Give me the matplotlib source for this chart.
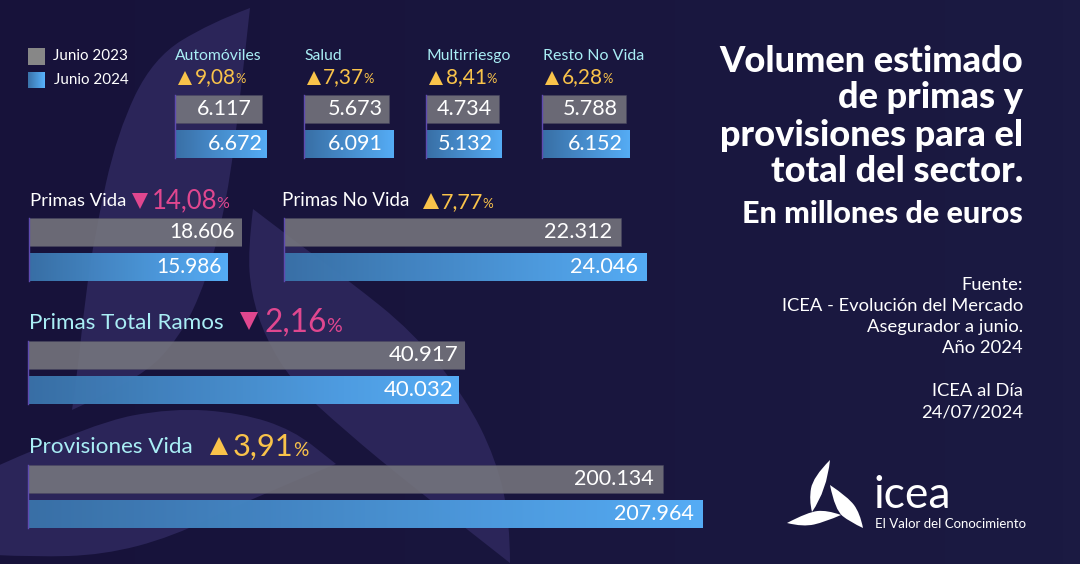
import matplotlib
matplotlib.use('Agg')
import matplotlib.pyplot as plt
import numpy as np
from matplotlib.colors import LinearSegmentedColormap
from matplotlib.patches import PathPatch, Rectangle
from matplotlib.path import Path

plt.rcParams['font.family'] = ['Lato', 'DejaVu Sans']

# datos (millones de euros)
grupos = ['Automóviles', 'Salud', 'Multirriesgo', 'Resto No Vida', 'Primas Vida',
          'Primas No Vida', 'Primas Total Ramos', 'Provisiones Vida']
junio_2023 = [6117, 5673, 4734, 5788, 18606, 22312, 40917, 200134]
junio_2024 = [6672, 6091, 5132, 6152, 15986, 24046, 40032, 207964]
variacion = ['9,08', '7,37', '8,41', '6,28', '14,08', '7,77', '2,16', '3,91']
sube = [True, True, True, True, False, True, False, True]
# el eje de cada grupo no empieza en cero en el original
base_eje = [-3540, -3209, -4951, -1856, -18600, -163, -23300, 75600]

W, H = 1080, 564
FONDO = '#17123a'
HOJA = '#2b2559'
CIAN = '#a9eef5'
AMARILLO = '#f9c34a'
ROSA = '#e0478f'
degradado = LinearSegmentedColormap.from_list('azul', ['#3a72a9', '#58b2fc'])

# caja de cada grupo en pixeles: izquierda, derecha, arriba, abajo
cajas = [(175, 267, 95, 158), (304, 393, 95, 158), (426, 502, 95, 158), (542, 630, 95, 158),
         (29, 242, 218, 281), (284, 647, 218, 281), (28, 465, 341, 404), (28, 703, 465, 528)]
# titulo, triangulo y porcentaje: x titulo, y titulo, x triangulo, y triangulo, x numero, y base numero
rotulos = [(175, 56, 185, 78, 195, 83), (304, 56, 314, 78, 323, 83), (427, 56, 436, 78, 446, 83),
           (543, 56, 552, 78, 562, 83), (30, 201, 140, 201, 152, 208), (282, 201, 431, 201, 441, 208),
           (29, 323, 249, 321, 265, 332), (29, 447, 219, 446, 233, 456)]
tam_rotulo = [11.3, 11.3, 11.3, 11.5, 13.3, 13.5, 16.1, 16.2]
tam_pct = [15, 15, 15, 15, 18.5, 15.5, 22.8, 22.2]
tam_triangulo = [10, 10, 10, 10, 11, 11.5, 13.5, 13.5]
tam_valor = [15.5, 15.5, 15.5, 15.5, 15, 15.6, 16, 15.5]
color_rotulo = [CIAN, CIAN, CIAN, CIAN, 'white', 'white', CIAN, CIAN]
pad_2023 = [10, 6, 7, 8, 7, 9, 6, 9]
pad_2024 = [4, 10, 9, 7, 5, 9, 6, 9]


def curva(puntos):
    # curva suave que pasa cerca de los puntos, con puntas en los extremos
    v = [puntos[0]]
    c = [Path.MOVETO]
    for i in range(1, len(puntos) - 1):
        fin = puntos[i + 1] if i == len(puntos) - 2 else tuple((np.array(puntos[i]) + np.array(puntos[i + 1])) / 2)
        v += [puntos[i], fin]
        c += [Path.CURVE3, Path.CURVE3]
    return v, c


def hoja(ax, lado1, lado2, color, **kw):
    v1, c1 = curva(lado1)
    v2, c2 = curva(lado2)
    path = Path(v1 + v2[1:], c1 + c2[1:])
    ax.add_patch(PathPatch(path, fc=color, ec='none', **kw))


fig = plt.figure(figsize=(W / 100, H / 100), dpi=100)
ax = fig.add_axes([0, 0, 1, 1], zorder=0)
ax.imshow(np.linspace(0, 1, 64).reshape(1, -1), aspect='auto', extent=(0, W, H, 0),
          cmap=LinearSegmentedColormap.from_list('fondo', [FONDO, '#1b1a42']))
ax.set_xlim(0, W)
ax.set_ylim(H, 0)
ax.axis('off')

# hojas del fondo
hoja(ax, [(250, 8), (210, 23), (153, 58), (117, 133), (95, 233), (85, 300), (77, 376), (72, 410)],
     [(72, 410), (138, 380), (179, 339), (207, 280), (227, 200), (240, 100), (250, 8)], HOJA)
hoja(ax, [(253, 209), (300, 245), (348, 280), (413, 332), (465, 397), (496, 459), (510, 521), (510, 563)],
     [(510, 563), (413, 487), (344, 430), (293, 383), (265, 337), (251, 293), (248, 250), (253, 209)], HOJA)
hoja(ax, [(-5, 467), (93, 423), (172, 408), (241, 413), (293, 430), (331, 460), (336, 464)],
     [(336, 464), (248, 500), (172, 537), (103, 555), (34, 557), (-5, 555)], HOJA)

# logo
hoja(ax, [(830, 460), (813, 477), (809, 500), (812, 512)], [(812, 512), (827, 490), (830, 460)], 'white')
hoja(ax, [(863, 528), (860, 513), (848, 497), (830, 485)], [(830, 485), (835, 510), (850, 522), (863, 528)], 'white')
hoja(ax, [(787, 523), (808, 512), (827, 510), (841, 515)], [(841, 515), (825, 522), (803, 527), (787, 523)], 'white')

# capa de textos, en pixeles
top = fig.add_axes([0, 0, 1, 1], zorder=5)
top.set_xlim(0, W)
top.set_ylim(H, 0)
top.axis('off')
top.patch.set_alpha(0)
render = fig.canvas.get_renderer()

# barras
for i, grupo in enumerate(grupos):
    izq, der, arriba, abajo = cajas[i]
    g = fig.add_axes([izq / W, 1 - abajo / H, (der - izq) / W, (abajo - arriba) / H], zorder=2)
    g.patch.set_alpha(0)
    for s in ['top', 'right', 'bottom']:
        g.spines[s].set_visible(False)
    g.spines['left'].set_color('#5f4bb0')
    g.spines['left'].set_linewidth(1)
    g.set_xticks([])
    g.set_yticks([])

    a, b = junio_2023[i], junio_2024[i]
    g.barh(0, a - base_eje[i], left=base_eje[i], height=0.8, color='#78787f', alpha=0.86,
           edgecolor='#4a4860', linewidth=0.4)
    g.imshow(np.linspace(0, 1, 256).reshape(1, -1), aspect='auto', cmap=degradado, alpha=0.97,
             extent=(base_eje[i], b, 1.4, 0.6), zorder=2)
    g.set_xlim(base_eje[i], max(a, b))
    g.set_ylim(1.4, -0.4)

    for fila, (valor, pad) in enumerate([(a, pad_2023[i]), (b, pad_2024[i])]):
        g.annotate(f'{valor:,}'.replace(',', '.'), (valor, fila), xytext=(-pad, 0),
                   textcoords='offset pixels', ha='right', va='center', color='white',
                   fontsize=tam_valor[i], zorder=4)

    # titulo del grupo y variacion
    xt, yt, xm, ym, xn, yn = rotulos[i]
    top.text(xt, yt, grupo, color=color_rotulo[i], fontsize=tam_rotulo[i], va='center')
    color = AMARILLO if sube[i] else ROSA
    top.plot([xm], [ym], marker='^' if sube[i] else 'v', color=color, ms=tam_triangulo[i], mew=0)
    t = top.text(xn, yn, variacion[i], color=color, fontsize=tam_pct[i], va='baseline')
    x1 = t.get_window_extent(render).x1
    top.text(x1 - 1, yn, '%', color=color, fontsize=tam_pct[i] * 0.62, va='baseline')

# leyenda
top.add_patch(Rectangle((28, 48), 17, 17, fc='#878787', ec='none'))
top.imshow(np.linspace(0, 1, 64).reshape(1, -1), aspect='auto', cmap=degradado, extent=(28, 45, 88, 72))
top.set_xlim(0, W)
top.set_ylim(H, 0)
top.text(53, 56, 'Junio 2023', color='white', fontsize=10.9, va='center')
top.text(54, 80, 'Junio 2024', color='white', fontsize=10.9, va='center')

# titulo a la derecha
titulo = ['Volumen estimado', 'de primas y', 'provisiones para el', 'total del sector.']
for y, linea in zip([61, 98, 135, 172], titulo):
    top.text(1023, y, linea, color='white', fontsize=26, fontweight='black', ha='right', va='center')
top.text(1023, 214, 'En millones de euros', color='white', fontsize=22, fontweight='black', ha='right', va='center')

fuente = ['Fuente:', 'ICEA - Evolución del Mercado', 'Asegurador a junio.', 'Año 2024', 'ICEA al Día', '24/07/2024']
for y, linea in zip([285, 306, 327, 348, 391, 412], fuente):
    top.text(1023, y, linea, color='white', fontsize=13.2, ha='right', va='center')

top.text(873, 495, 'icea', color='white', fontsize=32, va='center')
top.text(875, 524, 'El Valor del Conocimiento', color='white', fontsize=9.5, va='center')

fig.savefig('out.png', dpi=100)
